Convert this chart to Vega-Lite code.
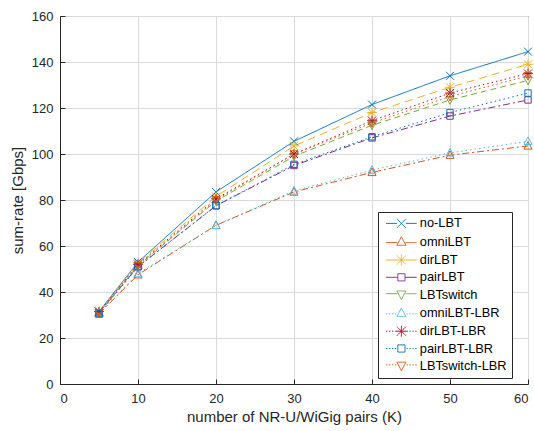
{
  "$schema": "https://vega.github.io/schema/vega-lite/v6.json",
  "width": 468,
  "height": 368,
  "autosize": "none",
  "padding": {"left": 60, "top": 16, "right": 6, "bottom": 47},
  "background": "white",
  "config": {
    "font": "Liberation Sans",
    "view": {"stroke": "#262626", "strokeWidth": 1},
    "axis": {
      "gridColor": "#dadada",
      "gridWidth": 1,
      "domainColor": "#262626",
      "tickColor": "#262626",
      "tickSize": -5,
      "labelColor": "#262626",
      "labelFontSize": 13,
      "titleFontSize": 15,
      "titleFontWeight": "normal",
      "titleColor": "#262626"
    }
  },
  "data": {
    "values": [
      {"K": 5, "series": "no-LBT", "rate": 31.5},
      {"K": 10, "series": "no-LBT", "rate": 53},
      {"K": 20, "series": "no-LBT", "rate": 83.5},
      {"K": 30, "series": "no-LBT", "rate": 105.5},
      {"K": 40, "series": "no-LBT", "rate": 121.5},
      {"K": 50, "series": "no-LBT", "rate": 134},
      {"K": 60, "series": "no-LBT", "rate": 144.5},
      {"K": 5, "series": "omniLBT", "rate": 30.5},
      {"K": 10, "series": "omniLBT", "rate": 47.5},
      {"K": 20, "series": "omniLBT", "rate": 69},
      {"K": 30, "series": "omniLBT", "rate": 83.5},
      {"K": 40, "series": "omniLBT", "rate": 92},
      {"K": 50, "series": "omniLBT", "rate": 99.5},
      {"K": 60, "series": "omniLBT", "rate": 103.5},
      {"K": 5, "series": "dirLBT", "rate": 31.5},
      {"K": 10, "series": "dirLBT", "rate": 52.5},
      {"K": 20, "series": "dirLBT", "rate": 81.5},
      {"K": 30, "series": "dirLBT", "rate": 103.5},
      {"K": 40, "series": "dirLBT", "rate": 118},
      {"K": 50, "series": "dirLBT", "rate": 129},
      {"K": 60, "series": "dirLBT", "rate": 139},
      {"K": 5, "series": "pairLBT", "rate": 31},
      {"K": 10, "series": "pairLBT", "rate": 51},
      {"K": 20, "series": "pairLBT", "rate": 77.5},
      {"K": 30, "series": "pairLBT", "rate": 95},
      {"K": 40, "series": "pairLBT", "rate": 107},
      {"K": 50, "series": "pairLBT", "rate": 116.5},
      {"K": 60, "series": "pairLBT", "rate": 123.5},
      {"K": 5, "series": "LBTswitch", "rate": 31},
      {"K": 10, "series": "LBTswitch", "rate": 51.5},
      {"K": 20, "series": "LBTswitch", "rate": 79.5},
      {"K": 30, "series": "LBTswitch", "rate": 99},
      {"K": 40, "series": "LBTswitch", "rate": 112.5},
      {"K": 50, "series": "LBTswitch", "rate": 123.5},
      {"K": 60, "series": "LBTswitch", "rate": 132},
      {"K": 5, "series": "omniLBT-LBR", "rate": 30.5},
      {"K": 10, "series": "omniLBT-LBR", "rate": 48},
      {"K": 20, "series": "omniLBT-LBR", "rate": 69},
      {"K": 30, "series": "omniLBT-LBR", "rate": 84},
      {"K": 40, "series": "omniLBT-LBR", "rate": 93},
      {"K": 50, "series": "omniLBT-LBR", "rate": 100.5},
      {"K": 60, "series": "omniLBT-LBR", "rate": 105.5},
      {"K": 5, "series": "dirLBT-LBR", "rate": 31.5},
      {"K": 10, "series": "dirLBT-LBR", "rate": 52},
      {"K": 20, "series": "dirLBT-LBR", "rate": 80.5},
      {"K": 30, "series": "dirLBT-LBR", "rate": 100},
      {"K": 40, "series": "dirLBT-LBR", "rate": 114.5},
      {"K": 50, "series": "dirLBT-LBR", "rate": 126.5},
      {"K": 60, "series": "dirLBT-LBR", "rate": 135},
      {"K": 5, "series": "pairLBT-LBR", "rate": 30.5},
      {"K": 10, "series": "pairLBT-LBR", "rate": 51},
      {"K": 20, "series": "pairLBT-LBR", "rate": 77.5},
      {"K": 30, "series": "pairLBT-LBR", "rate": 95.5},
      {"K": 40, "series": "pairLBT-LBR", "rate": 107.5},
      {"K": 50, "series": "pairLBT-LBR", "rate": 118},
      {"K": 60, "series": "pairLBT-LBR", "rate": 126.5},
      {"K": 5, "series": "LBTswitch-LBR", "rate": 31},
      {"K": 10, "series": "LBTswitch-LBR", "rate": 51.5},
      {"K": 20, "series": "LBTswitch-LBR", "rate": 80},
      {"K": 30, "series": "LBTswitch-LBR", "rate": 100},
      {"K": 40, "series": "LBTswitch-LBR", "rate": 113.5},
      {"K": 50, "series": "LBTswitch-LBR", "rate": 125},
      {"K": 60, "series": "LBTswitch-LBR", "rate": 134}
    ]
  },
  "encoding": {
    "x": {
      "field": "K", "type": "quantitative",
      "scale": {"domain": [0, 60], "nice": false},
      "axis": {"values": [0, 10, 20, 30, 40, 50, 60], "title": "number of NR-U/WiGig pairs (K)", "labelPadding": 13, "titlePadding": 4}
    },
    "y": {
      "field": "rate", "type": "quantitative",
      "scale": {"domain": [0, 160], "nice": false},
      "axis": {"values": [0, 20, 40, 60, 80, 100, 120, 140, 160], "title": "sum-rate [Gbps]", "labelPadding": 12, "titlePadding": 6}
    },
    "color": {
      "field": "series", "type": "nominal",
      "scale": {
        "domain": ["no-LBT", "omniLBT", "dirLBT", "pairLBT", "LBTswitch", "omniLBT-LBR", "dirLBT-LBR", "pairLBT-LBR", "LBTswitch-LBR"],
        "range": ["#0072BD", "#D95319", "#EDB120", "#7E2F8E", "#77AC30", "#4DBEEE", "#A2142F", "#0072BD", "#D95319"]
      },
      "legend": {
        "title": null,
        "orient": "none",
        "legendX": 318,
        "legendY": 196,
        "fillColor": "white",
        "strokeColor": "#262626",
        "padding": 5,
        "labelFontSize": 12.8,
        "labelColor": "#000000",
        "labelOffset": 12,
        "symbolOffset": 12,
        "rowPadding": 3.3,
        "symbolSize": 81,
        "symbolStrokeWidth": 1,
        "symbolFillColor": "transparent",
        "symbolOpacity": 1,
        "offset": 0,
        "encoding": {
          "symbols": {
            "strokeDash": {"value": [1, 0]},
            "fill": {"value": "transparent"},
            "shape": {"value": {"expr": "['M-3.4,0H-1M1,0H3.4M-1,-1L1,1M-1,1L1,-1','M-3.4,0.2H-0.9M0.9,0.2H3.4M0,-1.1L1,0.8L-1,0.8Z','M-3.4,0H-1.2M1.2,0H3.4M-1,-1L1,1M-1,1L1,-1M0,-1.2L0,1.2M-1.2,0L1.2,0','M-3.4,0H-0.8M0.8,0H3.4M-0.8,-0.8H0.8V0.8H-0.8Z','M-3.4,-0.2H-0.9M0.9,-0.2H3.4M0,1.1L1,-0.8L-1,-0.8Z','M-3.4,0.2H-3.1M-2.75,0.2H-2.45M-2.1,0.2H-1.8M-1.45,0.2H-1.15M1.15,0.2H1.45M1.8,0.2H2.1M2.45,0.2H2.75M3.1,0.2H3.4M0,-1.1L1,0.8L-1,0.8Z','M-3.4,0H-3.1M-2.75,0H-2.45M-2.1,0H-1.8M-1.45,0H-1.25M1.25,0H1.45M1.8,0H2.1M2.45,0H2.75M3.1,0H3.4M-1,-1L1,1M-1,1L1,-1M0,-1.2L0,1.2M-1.2,0L1.2,0','M-3.4,0H-3.1M-2.75,0H-2.45M-2.1,0H-1.8M-1.45,0H-1.15M1.15,0H1.45M1.8,0H2.1M2.45,0H2.75M3.1,0H3.4M-0.8,-0.8H0.8V0.8H-0.8Z','M-3.4,-0.2H-3.1M-2.75,-0.2H-2.45M-2.1,-0.2H-1.8M-1.45,-0.2H-1.15M1.15,-0.2H1.45M1.8,-0.2H2.1M2.45,-0.2H2.75M3.1,-0.2H3.4M0,1.1L1,-0.8L-1,-0.8Z'][indexof(['no-LBT','omniLBT','dirLBT','pairLBT','LBTswitch','omniLBT-LBR','dirLBT-LBR','pairLBT-LBR','LBTswitch-LBR'], datum.value)]"}}
          }
        }
      }
    }
  },
  "layer": [
    {
      "mark": {"type": "line", "strokeWidth": 1},
      "encoding": {
        "strokeDash": {
          "condition": [
            {"test": "datum.series === 'no-LBT'", "value": [1, 0]},
            {"test": "datum.series === 'omniLBT' || datum.series === 'pairLBT'", "value": [7, 3, 2, 3]},
            {"test": "datum.series === 'dirLBT'", "value": [8, 5]},
            {"test": "datum.series === 'LBTswitch'", "value": [6, 4]}
          ],
          "value": [1.5, 3]
        }
      }
    },
    {
      "mark": {"type": "point", "filled": false, "strokeWidth": 1, "size": 64, "opacity": 1},
      "encoding": {
        "shape": {
          "condition": [
            {"test": "datum.series === 'no-LBT'", "value": "M-1,-1L1,1M-1,1L1,-1"},
            {"test": "datum.series === 'omniLBT' || datum.series === 'omniLBT-LBR'", "value": "M0,-1.1L1,0.8L-1,0.8Z"},
            {"test": "datum.series === 'dirLBT' || datum.series === 'dirLBT-LBR'", "value": "M-1,-1L1,1M-1,1L1,-1M0,-1.2L0,1.2M-1.2,0L1.2,0"},
            {"test": "datum.series === 'pairLBT' || datum.series === 'pairLBT-LBR'", "value": "M-0.8,-0.8H0.8V0.8H-0.8Z"}
          ],
          "value": "M0,1.1L1,-0.8L-1,-0.8Z"
        }
      }
    }
  ]
}
